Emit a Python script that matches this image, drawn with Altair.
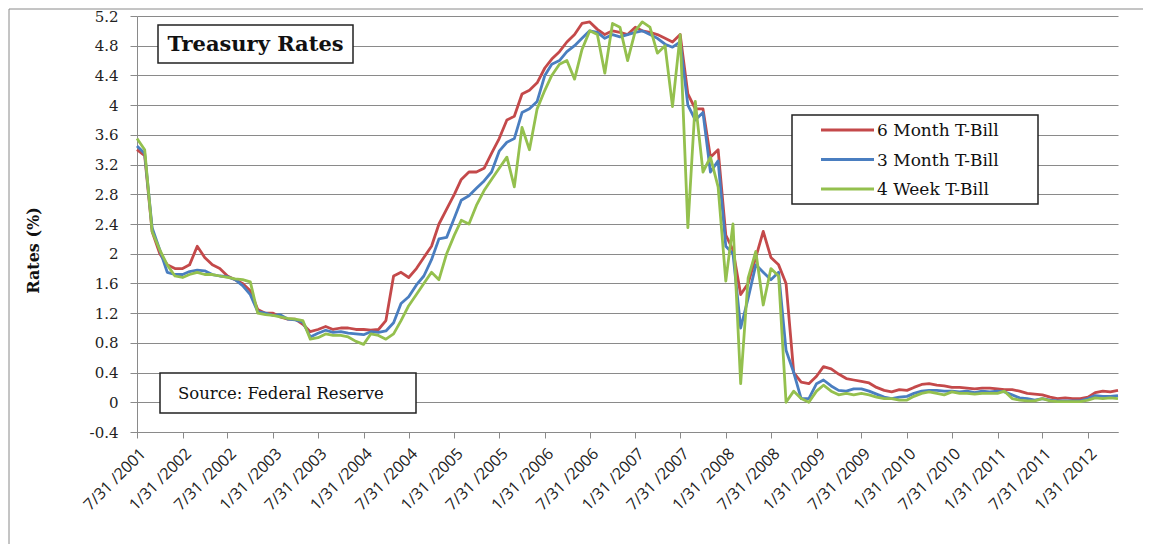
import calendar
import altair as alt
import pandas as pd

# ---------------- data ----------------
series_names = ["6 Month T-Bill", "3 Month T-Bill", "4 Week T-Bill"]
series_colors = ["#C4494A", "#4A7EC0", "#94C04E"]

# month-end dates, 7/31/2001 .. 5/31/2012
months = []
for yr in range(2001, 2013):
    for mo in range(1, 13):
        if (yr, mo) < (2001, 7) or (yr, mo) > (2012, 5):
            continue
        months.append(f"{yr:04d}-{mo:02d}-{calendar.monthrange(yr, mo)[1]:02d}")

six_month = [
    3.40, 3.32, 2.30, 2.00, 1.85, 1.80,
    1.80, 1.85, 2.10, 1.95, 1.85, 1.80, 1.70, 1.65, 1.60, 1.50, 1.25, 1.20,
    1.20, 1.15, 1.12, 1.12, 1.05, 0.95, 0.98, 1.02, 0.98, 1.00, 1.00, 0.98,
    0.98, 0.97, 0.98, 1.10, 1.70, 1.75, 1.68, 1.80, 1.95, 2.10, 2.40, 2.60,
    2.80, 3.00, 3.10, 3.10, 3.15, 3.35, 3.55, 3.80, 3.85, 4.15, 4.20, 4.30,
    4.50, 4.62, 4.72, 4.85, 4.95, 5.10, 5.12, 5.02, 4.95, 5.00, 4.98, 4.95,
    5.05, 5.00, 4.98, 4.95, 4.90, 4.85, 4.95, 4.15, 3.95, 3.95, 3.30, 3.40,
    2.25, 2.05, 1.45, 1.60, 1.95, 2.30, 1.95, 1.85, 1.60, 0.40, 0.27, 0.25,
    0.35, 0.48, 0.45, 0.38, 0.32, 0.30, 0.28, 0.26, 0.20, 0.16, 0.14, 0.17,
    0.16, 0.20, 0.24, 0.25, 0.23, 0.22, 0.20, 0.20, 0.19, 0.18, 0.19, 0.19,
    0.18, 0.17, 0.17, 0.15, 0.12, 0.11, 0.10, 0.07, 0.05, 0.06, 0.05, 0.05,
    0.07, 0.13, 0.15, 0.14, 0.16,
]

three_month = [
    3.45, 3.35, 2.35, 2.05, 1.75, 1.72,
    1.72, 1.76, 1.78, 1.77, 1.72, 1.70, 1.69, 1.65, 1.57, 1.45, 1.22, 1.20,
    1.17, 1.18, 1.12, 1.11, 1.08, 0.88, 0.93, 0.97, 0.94, 0.95, 0.93, 0.92,
    0.91, 0.95, 0.94, 0.96, 1.07, 1.33, 1.42, 1.58, 1.70, 1.92, 2.20, 2.22,
    2.48, 2.72, 2.78, 2.88, 2.98, 3.10, 3.38, 3.50, 3.55, 3.90, 3.95, 4.05,
    4.40, 4.55, 4.60, 4.72, 4.80, 4.90, 5.00, 4.98, 4.90, 4.95, 4.92, 4.95,
    4.98, 5.00, 4.95, 4.90, 4.82, 4.78, 4.85, 4.00, 3.80, 3.90, 3.10, 3.25,
    2.10, 2.00, 1.00, 1.40, 1.85, 1.75, 1.65, 1.75, 0.70, 0.40, 0.05, 0.05,
    0.25, 0.30, 0.22, 0.16, 0.15, 0.18, 0.18, 0.15, 0.11, 0.07, 0.05, 0.07,
    0.08, 0.12, 0.15, 0.16, 0.16, 0.15, 0.15, 0.14, 0.15, 0.13, 0.15, 0.14,
    0.15, 0.14, 0.10, 0.06, 0.05, 0.03, 0.05, 0.03, 0.02, 0.02, 0.02, 0.02,
    0.05, 0.09, 0.08, 0.08, 0.09,
]

four_week = [
    3.55, 3.40, 2.30, 2.05, 1.85, 1.70,
    1.68, 1.72, 1.75, 1.72, 1.72, 1.70, 1.68, 1.66, 1.65, 1.62, 1.20, 1.18,
    1.17, 1.15, 1.13, 1.12, 1.10, 0.85, 0.87, 0.92, 0.90, 0.90, 0.88, 0.82,
    0.78, 0.92, 0.90, 0.85, 0.92, 1.10, 1.30, 1.45, 1.60, 1.75, 1.65, 2.00,
    2.25, 2.45, 2.40, 2.65, 2.85, 3.00, 3.15, 3.30, 2.90, 3.70, 3.40, 3.95,
    4.20, 4.40, 4.55, 4.60, 4.35, 4.75, 5.00, 4.95, 4.43, 5.10, 5.05, 4.60,
    5.00, 5.12, 5.05, 4.70, 4.80, 3.98, 4.95, 2.35, 4.05, 3.10, 3.30, 2.90,
    1.63, 2.40, 0.25, 1.67, 2.03, 1.31, 1.80, 1.70, 0.00, 0.15, 0.05, 0.00,
    0.15, 0.23, 0.15, 0.10, 0.12, 0.10, 0.12, 0.10, 0.07, 0.05, 0.05, 0.03,
    0.03, 0.08, 0.12, 0.14, 0.12, 0.10, 0.14, 0.12, 0.12, 0.11, 0.12, 0.12,
    0.12, 0.15, 0.05, 0.03, 0.02, 0.02, 0.05, 0.02, 0.01, 0.01, 0.01, 0.01,
    0.03, 0.06, 0.05, 0.06, 0.05,
]

x_tick_dates = [(2001, 7, 31)] + [
    (yr, mo, 31) for yr in range(2002, 2013) for mo in (1, 7)
    if (yr, mo) <= (2012, 1)
]
y_ticks = [-0.4, 0, 0.4, 0.8, 1.2, 1.6, 2, 2.4, 2.8, 3.2, 3.6, 4, 4.4, 4.8, 5.2]

chart_title = "Treasury Rates"
source_note = "Source: Federal Reserve"
y_title = "Rates (%)"

# ---------------- build table ----------------
rows = []
for name, vals in zip(series_names, [six_month, three_month, four_week]):
    for d, v in zip(months, vals):
        rows.append({"date": d, "rate": v, "series": name})
df = pd.DataFrame(rows)

W, H = 981, 416
GRID = "#8a8a8a"
SERIF = "DejaVu Serif"

def dt(t):
    return alt.DateTime(year=t[0], month=t[1], date=t[2], utc=True)

x_enc = alt.X(
    "date:T",
    scale=alt.Scale(type="utc", domain=[dt((2001, 7, 31)), dt((2012, 5, 31))]),
    axis=alt.Axis(
        values=[dt(t) for t in x_tick_dates],
        labelExpr="utcFormat(datum.value, '%-m/%-d /%Y')",
        labelAngle=315,
        labelAlign="right",
        labelBaseline="top",
        labelPadding=7,
        labelFont="Open Sans",
        labelFontSize=16,
        labelColor="#222222",
        labelOverlap=False,
        labelBound=False,
        tickSize=6,
        tickColor=GRID,
        domainColor=GRID,
        grid=False,
        title=None,
    ),
)

y_enc = alt.Y(
    "rate:Q",
    scale=alt.Scale(domain=[-0.4, 5.2], nice=False, zero=False),
    axis=alt.Axis(
        values=y_ticks,
        labelExpr="datum.value < 0 ? '-' + format(-datum.value, '.1~f') : format(datum.value, '.1~f')",
        labelFont=SERIF,
        labelFontSize=15,
        labelColor="#222222",
        labelPadding=12,
        tickSize=7,
        tickColor=GRID,
        domainColor=GRID,
        grid=True,
        gridColor=GRID,
        gridWidth=1,
        title=y_title,
        titleFont=SERIF,
        titleFontSize=16,
        titleFontWeight="bold",
        titleColor="#111111",
        titleAngle=270,
        titleX=-104,
        titleY=234,
        titleAlign="center",
        titleBaseline="middle",
    ),
)

color_enc = alt.Color(
    "series:N",
    scale=alt.Scale(domain=series_names, range=series_colors),
    legend=None,
)

lines = [
    alt.Chart(df)
    .transform_filter(alt.datum.series == name)
    .mark_line(strokeWidth=2.8, strokeJoin="round")
    .encode(x=x_enc, y=y_enc, color=color_enc)
    for name in series_names
]

one = alt.Data(values=[{"k": 0}])

# outer chart-area border
border = alt.Chart(one).mark_rect(fillOpacity=0, stroke="#8a8a8a", strokeWidth=1).encode(
    x=alt.value(-128), x2=alt.value(W + 60), y=alt.value(-7), y2=alt.value(H + 200)
)

# title box
title_box = alt.Chart(one).mark_rect(fill="white", stroke="#222222", strokeWidth=1.5).encode(
    x=alt.value(21), x2=alt.value(216), y=alt.value(9), y2=alt.value(47)
)
title_text = alt.Chart(one).mark_text(
    text=chart_title, font=SERIF, fontSize=21, fontWeight="bold", color="#111111",
    align="center", baseline="middle",
).encode(x=alt.value(118.5), y=alt.value(29))

# source box
src_box = alt.Chart(one).mark_rect(fill="white", stroke="#222222", strokeWidth=1.5).encode(
    x=alt.value(23), x2=alt.value(279), y=alt.value(357), y2=alt.value(397)
)
src_text = alt.Chart(one).mark_text(
    text=source_note, font=SERIF, fontSize=16.5, color="#111111",
    align="left", baseline="middle",
).encode(x=alt.value(41), y=alt.value(378))

# legend box
leg_box = alt.Chart(one).mark_rect(fill="white", stroke="#222222", strokeWidth=1.5).encode(
    x=alt.value(655), x2=alt.value(901), y=alt.value(99), y2=alt.value(188)
)
leg_layers = [leg_box]
for i, (name, col) in enumerate(zip(series_names, series_colors)):
    yy = 114 + i * 29.5
    leg_layers.append(
        alt.Chart(one).mark_rule(color=col, strokeWidth=3).encode(
            x=alt.value(684), x2=alt.value(737), y=alt.value(yy)
        )
    )
    leg_layers.append(
        alt.Chart(one).mark_text(
            text=name, font=SERIF, fontSize=17, color="#111111",
            align="left", baseline="middle",
        ).encode(x=alt.value(740), y=alt.value(yy + 1))
    )

chart = alt.layer(
    border, *lines, title_box, title_text, src_box, src_text, *leg_layers
).properties(
    width=W,
    height=H,
    autosize=alt.AutoSizeParams(type="none"),
    padding={"left": 129, "top": 8, "right": 25, "bottom": 112},
    background="white",
).configure_view(stroke=None)

chart.save("out.html", embed_options={"renderer": "svg", "actions": False})
